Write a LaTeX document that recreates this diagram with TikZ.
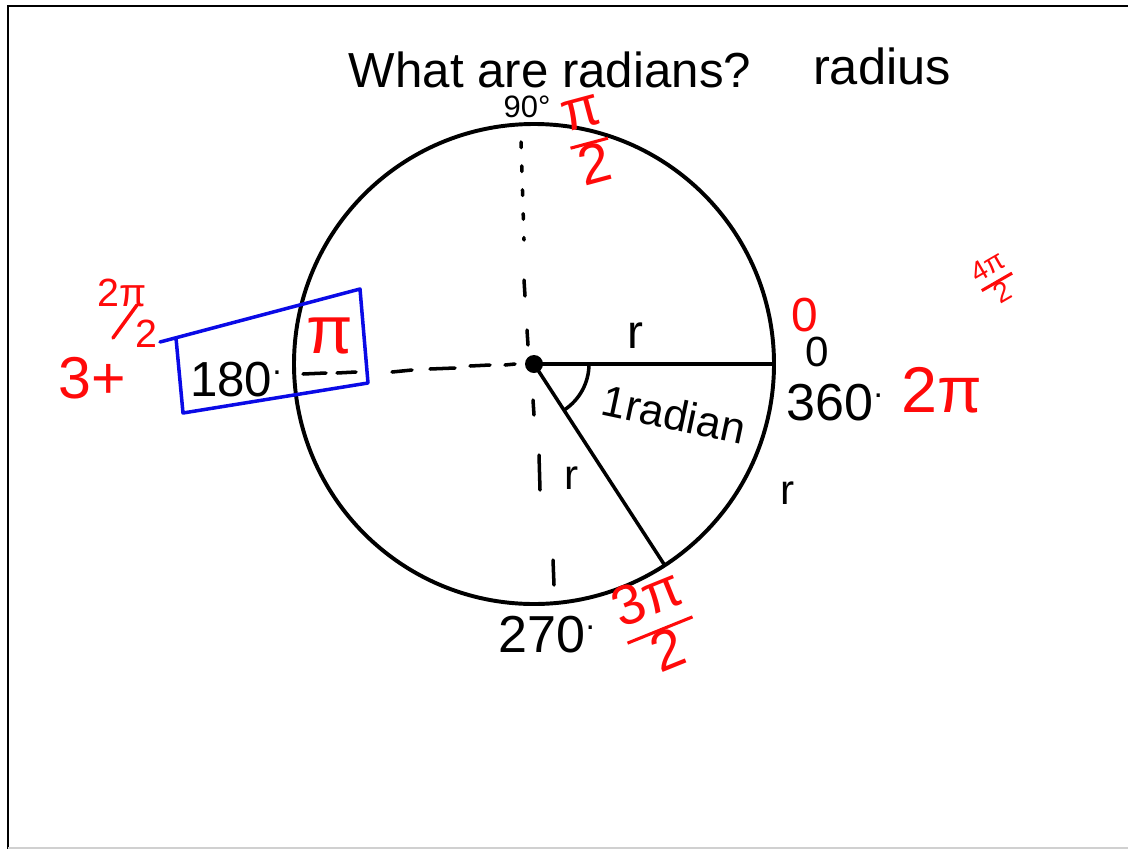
\documentclass[tikz,border=0pt]{standalone}
\usepackage{fontspec}
\setmainfont{Liberation Sans}
\usetikzlibrary{calc}
\definecolor{inkred}{HTML}{FF0A0A}
\definecolor{inkblue}{HTML}{0A0AE6}
\definecolor{framegray}{HTML}{D0D0D0}
\newcommand{\degdot}{\raisebox{0.45em}{\fontsize{24}{24}\selectfont .}}
\newcommand{\handfrac}[2]{{\setlength{\arrayrulewidth}{2.2pt}%
  \renewcommand{\arraystretch}{0.85}%
  \begin{tabular}{@{}c@{}}#1\\\hline #2\end{tabular}}}

\begin{document}
\begin{tikzpicture}[
    x=0.025cm, y=-0.025cm,
    pen/.style={line width=2.5pt, line cap=round, line join=round},
    hand/.style={inner sep=0pt, font=\fontsize{#1}{#1}\selectfont},
    redhand/.style={hand=#1, text=inkred},
  ]
  \useasboundingbox (0,0) rectangle (1128,849);
  % frame
  \draw[line width=1.6pt] (8,849) -- (8,6) -- (1128,6);
  \draw[framegray, line width=1pt] (8,848) -- (1128,848);

  \node[hand=35] (title)  at (550,70) {What are radians?};
  \node[hand=36] (radius) at (882,66) {radius};

  \coordinate (O) at (534,364);
  \coordinate (E) at ($(O)+(0:240)$);
  \coordinate (S) at ($(O)+(57:240)$);

  \draw[pen, line width=2.8pt] (O) circle (240);
  \draw[pen] (O) -- (E);
  \draw[pen] (O) -- (S);
  \draw[pen] ($(O)+(55,0)$) arc[start angle=0, end angle=57, radius=55];
  \fill (O) circle (9);

  % dotted and dashed axes
  \draw[pen, dash pattern=on 4pt off 13pt] (521,142) -- (524,240);
  \foreach \xa/\ya/\xb/\yb in {524/280/525/296, 527/330/528/345, 533/400/534/415,
      539/455/540/490, 553/560/554/585}
    \draw[pen] (\xa,\ya) -- (\xb,\yb);
  \foreach \xa/\ya/\xb/\yb in {303/374/326/373, 337/373/356/372, 392/372/412/370,
      430/369/455/368, 470/366/490/365, 505/365/515/364}
    \draw[pen] (\xa,\ya) -- (\xb,\yb);

  % box round 180
  \draw[pen, inkblue] (160,342) -- (360,289) -- (368,383) -- (183,413) -- (176,338);

  % degrees
  \node[hand=22] (d90)  at (527,107) {90°};
  \node[hand=35] (d180) at (236,380) {180\degdot};
  \node[hand=37] (d270) at (547,635) {270\degdot};
  \node[hand=37] (d360) at (835,403) {360\degdot};
  \node[hand=30] (d0)   at (817,352) {0};

  % radians
  \node[redhand=40, rotate=15] (rhalf)  at (590,146) {\handfrac{π}{2}};
  \node[redhand=48] (rpi)    at (330,336) {π};
  \node[redhand=40, rotate=22] (rthree) at (660,630) {\handfrac{3π}{2}};
  \node[redhand=46] (rtwo)   at (942,390) {2π};
  \node[redhand=34] (rzero)  at (805,315) {0};
  \node[redhand=20, rotate=30] (rfour)  at (997,282) {\handfrac{4π}{2}};
  \node[redhand=28] (rtwoa)  at (122,293) {2π};
  \node[redhand=28] (rtwob)  at (146,334) {2};
  \draw[pen, inkred] (137,305) -- (113,338);
  \node[redhand=42] (rthreeplus) at (92,378) {3+};

  % radius labels
  \node[hand=34] (rtop)   at (635,336) {r};
  \node[hand=30] (rslant) at (572,478) {r};
  \node[hand=30] (rarc)   at (788,493) {r};
  \node[hand=31, rotate=-12] (onerad) at (674,414) {1radian};
\end{tikzpicture}
\end{document}
